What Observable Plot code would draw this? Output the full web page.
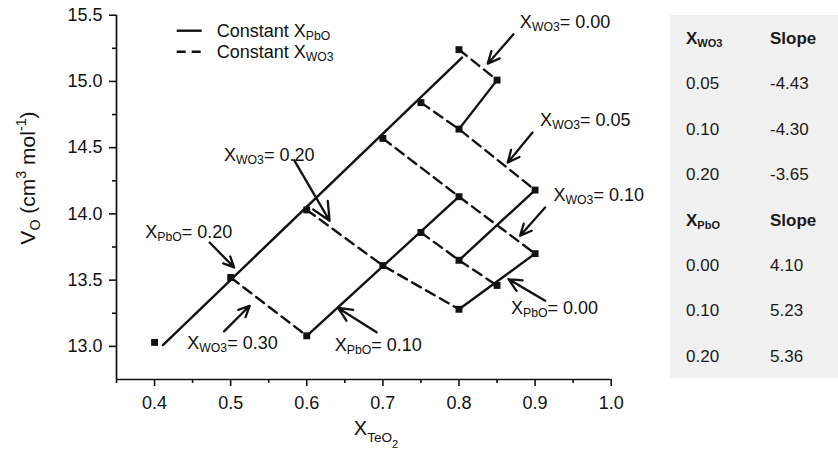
<!DOCTYPE html>
<html>
<head>
<meta charset="utf-8">
<script src="https://cdn.jsdelivr.net/npm/d3@7"></script>
<script src="https://cdn.jsdelivr.net/npm/@observablehq/plot@0.6"></script>
<style>
  body { margin: 0; background: #fff; font-family: "Liberation Sans", Arial, sans-serif; }
  #wrap { position: relative; width: 838px; height: 452px; }
  #table { position: absolute; left: 670px; top: 15px; width: 168px; height: 363px; background: #f1f1f1; color: #1a1a1a; font-size: 17px; }
  .cell { position: absolute; height: 20px; line-height: 20px; white-space: nowrap; }
  .hdr { font-weight: bold; }
  .cell sub { font-size: 11px; vertical-align: -3px; line-height: 0; }
  svg text { white-space: pre; }
</style>
</head>
<body>
<div id="wrap"><div id="chart"></div><div id="table"></div></div>
<script>
// ---- measured glass points ----
const teo2 = [0.40, 0.50, 0.60, 0.70, 0.75, 0.80, 0.85, 0.80, 0.90, 0.80, 0.75, 0.70, 0.60, 0.90, 0.80, 0.85, 0.80];
const vo   = [13.03, 13.52, 14.03, 14.57, 14.84, 15.24, 15.01, 14.64, 14.18, 14.13, 13.86, 13.61, 13.08, 13.70, 13.65, 13.46, 13.28];
const wo3  = [0.40, 0.30, 0.20, 0.10, 0.05, 0.00, 0.00, 0.05, 0.05, 0.10, 0.15, 0.20, 0.30, 0.10, 0.15, 0.15, 0.20];

// ---- constant X_PbO fitted lines (end points) ----
const fitPbO = [0.20, 0.20, 0.15, 0.15, 0.10, 0.10, 0.05, 0.05, 0.00, 0.00];
const fitX   = [0.411, 0.804, 0.80, 0.85, 0.60, 0.80, 0.80, 0.90, 0.80, 0.90];
const fitV   = [13.01, 15.18, 14.64, 15.01, 13.08, 14.13, 13.65, 14.18, 13.28, 13.70];

// ---- annotations ----
const labelText = ["X_{WO3}= 0.00", "X_{WO3}= 0.05", "X_{WO3}= 0.10", "X_{PbO}= 0.00", "X_{PbO}= 0.10", "X_{WO3}= 0.30", "X_{PbO}= 0.20", "X_{WO3}= 0.20"];
const labelX = [0.880, 0.9066, 0.9242, 0.8684, 0.6368, 0.443, 0.3878, 0.4913];
const labelY = [15.404, 14.664, 14.099, 13.247, 12.968, 12.983, 13.820, 14.400];
const arrowX1 = [0.8716, 0.8966, 0.9132, 0.9132, 0.6917, 0.4913, 0.4724, 0.5834];
const arrowY1 = [15.356, 14.614, 14.048, 13.345, 13.106, 13.113, 13.784, 14.406];
const arrowX2 = [0.8378, 0.8641, 0.8803, 0.8650, 0.6413, 0.5250, 0.5045, 0.6300];
const arrowY2 = [15.134, 14.388, 13.835, 13.508, 13.290, 13.307, 13.596, 13.948];

// ---- axes ----
const xTicks = [0.4, 0.5, 0.6, 0.7, 0.8, 0.9, 1.0];
const xMinor = [0.35, 0.45, 0.55, 0.65, 0.75, 0.85, 0.95];
const yTicks = [13.0, 13.5, 14.0, 14.5, 15.0, 15.5];
const yMinor = [13.25, 13.75, 14.25, 14.75, 15.25];

// ---- slope table ----
const wo3Rows = ["0.05", "0.10", "0.20"];
const wo3Slopes = ["-4.43", "-4.30", "-3.65"];
const pboRows = ["0.00", "0.10", "0.20"];
const pboSlopes = ["4.10", "5.23", "5.36"];

// build tables
const points = teo2.map((x, i) => ({x, v: vo[i], wo3: wo3[i]}));
const dashed = d3.sort(points, d => d.wo3, d => d.x);
const fits = fitX.map((x, i) => ({x, v: fitV[i], pbo: fitPbO[i]}));
const labels = labelText.map((t, i) => ({t, x: labelX[i], y: labelY[i]}));
const arrows = arrowX1.map((x1, i) => ({x1, y1: arrowY1[i], x2: arrowX2[i], y2: arrowY2[i]}));

const ink = "#111";
const svg = Plot.plot({
  width: 838, height: 452,
  marginLeft: 116, marginRight: 227.3, marginTop: 14.7, marginBottom: 73,
  style: {fontFamily: '"Liberation Sans", Arial, sans-serif', fontSize: "18px", color: ink, background: "transparent"},
  x: {domain: [0.35, 1.0]},
  y: {domain: [12.75, 15.5]},
  marks: [
    Plot.ruleX([0.35], {stroke: ink, strokeWidth: 1.7}),
    Plot.ruleY([12.75], {stroke: ink, strokeWidth: 1.7}),
    Plot.axisX(xTicks, {tickSize: 7, tickPadding: 10, tickFormat: d3.format(".1f"), fontSize: 18, label: null, strokeWidth: 1.6}),
    Plot.axisX(xMinor, {tickSize: 4, tickFormat: () => "", label: null, strokeWidth: 1.6}),
    Plot.axisY(yTicks, {tickSize: 7, tickPadding: 7, tickFormat: d3.format(".1f"), fontSize: 18, label: null, strokeWidth: 1.6}),
    Plot.axisY(yMinor, {tickSize: 4, tickFormat: () => "", label: null, strokeWidth: 1.6}),
    Plot.line(dashed, {x: "x", y: "v", z: "wo3", stroke: ink, strokeWidth: 2.4, strokeDasharray: "10,6"}),
    Plot.line(fits, {x: "x", y: "v", z: "pbo", stroke: ink, strokeWidth: 2.4}),
    Plot.dot(points, {x: "x", y: "v", symbol: "square", r: 3.9, fill: ink, stroke: null}),
    Plot.arrow(arrows, {x1: "x1", y1: "y1", x2: "x2", y2: "y2", stroke: ink, strokeWidth: 2.3, headLength: 13, headAngle: 50}),
    Plot.text(labels, {x: "x", y: "y", text: "t", textAnchor: "start", lineAnchor: "bottom", fontSize: 18, fill: ink})
  ]
});
document.getElementById("chart").appendChild(svg);

// rich text: _{..} subscript, __{..} second-level subscript, ^{..} superscript
function setRich(el, str, F, subShift) {
  while (el.firstChild) el.removeChild(el.firstChild);
  const re = /(__|_|\^)\{([^}]*)\}/g;
  const segs = [];
  let last = 0, m;
  while ((m = re.exec(str))) {
    if (m.index > last) segs.push({t: str.slice(last, m.index), lvl: 0});
    segs.push({t: m[2], lvl: m[1] === "_" ? 1 : m[1] === "__" ? 2 : -1});
    last = re.lastIndex;
  }
  if (last < str.length) segs.push({t: str.slice(last), lvl: 0});
  let cur = 0;
  for (const s of segs) {
    const off = s.lvl === 0 ? 0 : s.lvl === 1 ? subShift * F : s.lvl === 2 ? subShift * F + 0.3 * F : -0.42 * F;
    const size = s.lvl === 0 ? F : s.lvl === 2 ? 0.55 * F : 0.68 * F;
    const ts = document.createElementNS("http://www.w3.org/2000/svg", "tspan");
    ts.setAttribute("dy", (off - cur).toFixed(2));
    ts.setAttribute("font-size", size.toFixed(2));
    ts.textContent = s.t;
    el.appendChild(ts);
    cur = off;
  }
}
d3.select(svg).selectAll("text").each(function () {
  const s = this.textContent;
  if (/[_^]\{/.test(s)) setRich(this, s, 18, 0.18);
});

// axis titles and legend
const root = d3.select(svg).append("g").attr("fill", ink).attr("font-family", '"Liberation Sans", Arial, sans-serif');
const yt = root.append("text").attr("transform", "translate(35,178) rotate(-90)").attr("text-anchor", "middle").attr("font-size", 21);
setRich(yt.node(), "V_{O} (cm^{3} mol^{-1})", 21, 0.25);
const xt = root.append("text").attr("x", 376).attr("y", 435).attr("text-anchor", "middle").attr("font-size", 20);
setRich(xt.node(), "X_{TeO}__{2}", 20, 0.36);

const leg = root.append("g").attr("text-anchor", "start");
leg.append("line").attr("x1", 176.7).attr("x2", 201.7).attr("y1", 30.7).attr("y2", 30.7).attr("stroke", ink).attr("stroke-width", 2.4);
leg.append("line").attr("x1", 176.7).attr("x2", 201.7).attr("y1", 51.7).attr("y2", 51.7).attr("stroke", ink).attr("stroke-width", 2.4).attr("stroke-dasharray", "9,6");
const l1 = leg.append("text").attr("x", 216.7).attr("y", 36.7).attr("font-size", 18).attr("text-anchor", "start");
setRich(l1.node(), "Constant X_{PbO}", 18, 0.18);
const l2 = leg.append("text").attr("x", 216.7).attr("y", 58).attr("font-size", 18).attr("text-anchor", "start");
setRich(l2.node(), "Constant X_{WO3}", 18, 0.18);

// slope table
const table = document.getElementById("table");
const rows = [
  ["<span class='hdr'>X<sub>WO3</sub></span>", "<span class='hdr'>Slope</span>"],
  ...wo3Rows.map((r, i) => [r, wo3Slopes[i]]),
  ["<span class='hdr'>X<sub>PbO</sub></span>", "<span class='hdr'>Slope</span>"],
  ...pboRows.map((r, i) => [r, pboSlopes[i]])
];
rows.forEach((r, i) => {
  const cy = 24 + i * 45.4;
  [16, 100].forEach((left, j) => {
    const c = document.createElement("div");
    c.className = "cell";
    c.style.left = left + "px";
    c.style.top = (cy - 10) + "px";
    c.innerHTML = r[j];
    table.appendChild(c);
  });
});
</script>
</body>
</html>
